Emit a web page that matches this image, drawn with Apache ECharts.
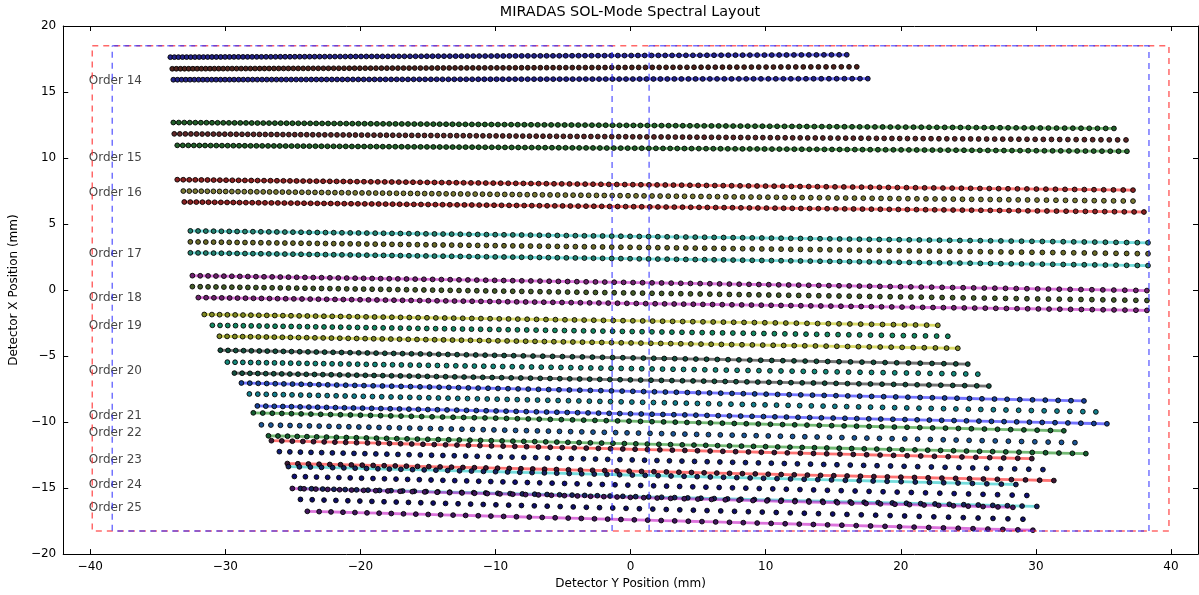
<!DOCTYPE html>
<html><head><meta charset="utf-8">
<script src="https://cdn.jsdelivr.net/npm/echarts@6/dist/echarts.min.js"></script>
<style>html,body{margin:0;padding:0;background:#fff}#c{width:1199px;height:595px}</style>
</head><body><div id="c"></div>
<script>
// ---- data (mm) ----
const orderNums = [14,15,16,17,18,19,20,21,22,23,24,25];
const labelY = [16.0, 10.2, 7.5, 2.9, -0.45, -2.55, -6.0, -9.35, -10.7, -12.7, -14.6, -16.35];
const labelX = -40.15;
// each row: [xStart, yStart, xEnd, yEnd]
const rowA = [
  [-34.07, 17.64, 16.00, 17.82],[-33.85, 12.69, 35.78, 12.24],[-33.56, 8.36, 37.19, 7.57],
  [-32.59, 4.48, 38.30, 3.58],[-32.44, 1.09, 38.22, -0.04],[-31.56, -1.85, 22.74, -2.67],
  [-30.37, -4.56, 24.96, -5.61],[-28.81, -7.04, 33.56, -8.40],[-27.93, -9.30, 32.07, -10.66],
  [-26.59, -11.41, 29.70, -12.77],[-25.33, -13.37, 28.52, -14.73],[-25.04, -15.03, 28.30, -16.46]
];
const rowB = [
  [-33.93, 16.76, 16.74, 16.91],[-33.78, 11.83, 36.67, 11.37],[-33.11, 7.50, 37.19, 6.74],
  [-32.59, 3.65, 38.30, 2.75],[-32.44, 0.26, 38.22, -0.79],[-30.96, -2.67, 23.48, -3.50],
  [-29.85, -5.46, 25.70, -6.37],[-28.22, -7.87, 34.44, -9.23],[-27.33, -10.21, 32.89, -11.56],
  [-26.00, -12.24, 30.52, -13.60],[-24.89, -14.12, 29.33, -15.56],[-24.44, -15.86, 29.04, -17.36]
];
const rowC = [
  [-33.85, 15.93, 17.56, 16.01],[-33.56, 10.96, 36.74, 10.51],[-33.04, 6.67, 38.00, 5.91],
  [-32.59, 2.82, 38.30, 1.85],[-32.00, -0.57, 38.22, -1.54],[-30.44, -3.50, 24.22, -4.41],
  [-29.33, -6.29, 26.52, -7.27],[-27.63, -8.78, 35.26, -10.13],[-26.81, -11.04, 33.70, -12.39],
  [-25.41, -13.14, 31.33, -14.43],[-24.44, -15.03, 30.07, -16.39],[-23.93, -16.76, 29.78, -18.19]
];
// dot spacing read at the left and right end of each order (mm)
const spacingLeft  = [0.30,0.41,0.44,0.57,0.58,0.57,0.57,0.62,0.70,0.77,0.82,0.87];
const spacingRight = [0.57,0.62,0.72,0.79,0.82,0.83,0.89,0.96,0.99,1.04,1.09,1.11];
// detector outlines (mm)
const outerBox = [-39.85, 39.85, -18.25, 18.5];
const detLeft  = [-38.37, -1.37, -18.25, 18.5];
const detRight = [1.37, 38.37, -18.25, 18.5];
const xTicks = [-40,-30,-20,-10,0,10,20,30,40];

// ---- styles ----
const lineColors = ['rgba(0,0,255,0.55)','rgba(0,128,0,0.55)','rgba(255,0,0,0.55)','rgba(0,191,191,0.55)',
  'rgba(191,0,191,0.55)','rgba(191,191,0,0.6)','rgba(0,0,0,0.55)','rgba(0,0,255,0.55)','rgba(0,128,0,0.55)',
  'rgba(255,0,0,0.55)','rgba(0,191,191,0.55)','rgba(191,0,191,0.55)'];
const faceOuter = ['#22228a','#22602a','#8a2222','#22806e','#6e226e','#808a22','#14503f','#16409a','#145e30','#3e1634','#162460','#40165e'];
const faceMiddle = ['#50221c','#602828','#7c7c36','#6c6c2a','#465e2a','#148a64','#148a7c','#14808e','#1c5696','#0e1c74','#0e0e74','#0e0e66'];

function countDots(r, s0, s1) {
  const L = Math.hypot(r[2]-r[0], r[3]-r[1]);
  return Math.round(L / ((s0+s1)/2)) + 1;
}
function rowPoints(r, n, s0, s1) {
  const cum = [0]; let tot = 0;
  for (let k = 0; k < n-1; k++) { tot += s0 + (s1-s0)*k/Math.max(1,n-2); cum.push(tot); }
  return cum.map(c => { const t = c/tot; return [r[0]+(r[2]-r[0])*t, r[1]+(r[3]-r[1])*t]; });
}
function boxPts(b) { return [[b[0],b[3]],[b[1],b[3]],[b[1],b[2]],[b[0],b[2]],[b[0],b[3]]]; }

const series = [];
orderNums.forEach((o, i) => {
  const n = countDots(rowB[i], spacingLeft[i], spacingRight[i]);
  const pa = rowPoints(rowA[i], n, spacingLeft[i], spacingRight[i]);
  const pb = rowPoints(rowB[i], n, spacingLeft[i], spacingRight[i]);
  const pc = rowPoints(rowC[i], n, spacingLeft[i], spacingRight[i]);
  [pa, pc].forEach(p => series.push({type:'line', data:p, showSymbol:false, z:2, silent:true,
    lineStyle:{color:lineColors[i], width:2.8}}));
  [[pa, faceOuter[i]],[pb, faceMiddle[i]],[pc, faceOuter[i]]].forEach(([p, c]) => series.push({
    type:'scatter', data:p, symbol:'circle', symbolSize:4.8, z:3, silent:true,
    itemStyle:{color:c, borderColor:'rgba(0,0,0,0.9)', borderWidth:1, opacity:1}}));
});
const dashStyle = (c) => ({color:c, width:1.5, type:[6,5]});
series.push({type:'line', data:boxPts(outerBox), showSymbol:false, z:5, silent:true, lineStyle:dashStyle('rgba(255,40,40,0.7)')});
series.push({type:'line', data:boxPts(detLeft), showSymbol:false, z:5, silent:true, lineStyle:dashStyle('rgba(40,40,255,0.65)')});
series.push({type:'line', data:boxPts(detRight), showSymbol:false, z:5, silent:true, lineStyle:dashStyle('rgba(40,40,255,0.65)')});
series.push({type:'scatter', z:1, silent:true, symbolSize:1, itemStyle:{color:'rgba(0,0,0,0)'},
  data: orderNums.map((o,i) => ({value:[labelX, labelY[i]], name:'Order ' + o})),
  label:{show:true, position:'right', distance:0, offset:[0,2], formatter:p => p.name, color:'#111',
    fontFamily:'DejaVu Sans', fontSize:12}});

const fmt = v => String(v).replace('-', '\u2212');
const axisFont = {fontFamily:'DejaVu Sans', fontSize:12, color:'#000'};
const chart = echarts.init(document.getElementById('c'), null, {renderer:'canvas'});
chart.setOption({
  animation:false,
  backgroundColor:'#fff',
  grid:{left:63, right:1, top:26, bottom:38, containLabel:false},
  graphic:[{type:'text', x:630, y:5, style:{text:'MIRADAS SOL-Mode Spectral Layout', fontFamily:'DejaVu Sans',
    fontSize:14.4, fill:'#000', textAlign:'center', textVerticalAlign:'top'}}],
  xAxis:[
    {type:'value', min:-42, max:42, position:'bottom',
     axisLine:{onZero:false, lineStyle:{color:'#000', width:1}},
     axisTick:{inside:true, length:5, customValues:xTicks, lineStyle:{color:'#000'}},
     axisLabel:Object.assign({customValues:xTicks, margin:7, formatter:fmt}, axisFont),
     splitLine:{show:false},
     name:'Detector Y Position (mm)', nameLocation:'middle', nameGap:18, nameTextStyle:axisFont},
    {type:'value', min:-42, max:42, position:'top',
     axisLine:{onZero:false, lineStyle:{color:'#000', width:1}},
     axisTick:{inside:true, length:5, customValues:xTicks, lineStyle:{color:'#000'}},
     axisLabel:{show:false}, splitLine:{show:false}}
  ],
  yAxis:[
    {type:'value', min:-20, max:20, interval:5, position:'left',
     axisLine:{onZero:false, lineStyle:{color:'#000', width:1}},
     axisTick:{inside:true, length:5, lineStyle:{color:'#000'}},
     axisLabel:Object.assign({margin:7, formatter:fmt}, axisFont),
     splitLine:{show:false},
     name:'Detector X Position (mm)', nameLocation:'middle', nameGap:38, nameRotate:90, nameTextStyle:axisFont},
    {type:'value', min:-20, max:20, interval:5, position:'right',
     axisLine:{onZero:false, lineStyle:{color:'#000', width:1}},
     axisTick:{inside:true, length:5, lineStyle:{color:'#000'}},
     axisLabel:{show:false}, splitLine:{show:false}}
  ],
  series: series
});
</script></body></html>
